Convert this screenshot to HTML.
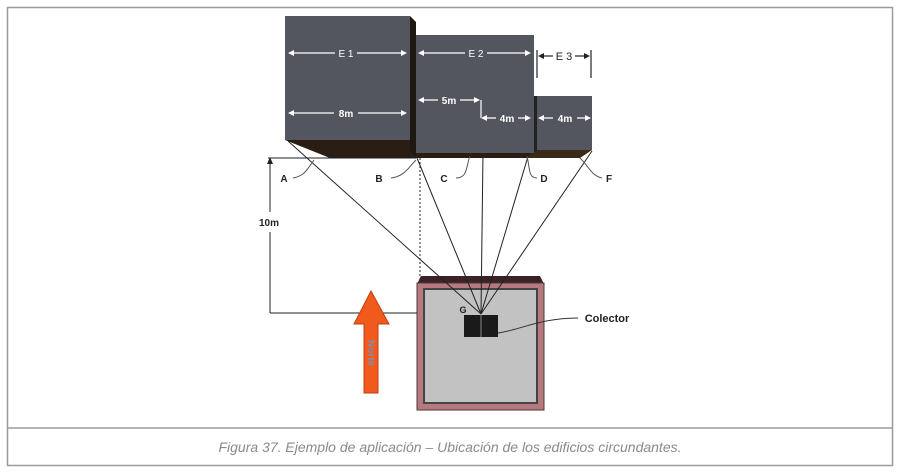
<!DOCTYPE html>
<html><head><meta charset="utf-8"><style>
html,body{margin:0;padding:0;background:#fff;}
svg{display:block;}
</style></head><body>
<svg width="900" height="475" viewBox="0 0 900 475" xmlns="http://www.w3.org/2000/svg" font-family="Liberation Sans, sans-serif">
<rect x="0" y="0" width="900" height="475" fill="#fff"/>
<rect x="7.5" y="7.5" width="885" height="458" fill="none" stroke="#9a9a9a" stroke-width="1.5"/>
<line x1="7.5" y1="428" x2="892.5" y2="428" stroke="#9a9a9a" stroke-width="1.5"/>
<text x="450" y="452" text-anchor="middle" font-size="14" font-style="italic" fill="#8a8a8a">Figura 37. Ejemplo de aplicación – Ubicación de los edificios circundantes.</text>

<path d="M285,140 L330,158 L416,158 L416,140 Z" fill="#2a1d14"/>
<path d="M410,16 L416,22 L416,158 L410,150 Z" fill="#1e1812"/>
<path d="M416,153 L534,153 L537,158 L416,158 Z" fill="#2a1d14"/>
<path d="M534,150 L592,150 L580,158 L528,158 Z" fill="#3a2a18"/>
<path d="M534,96 L537,96 L537,152 L534,152 Z" fill="#222"/>
<rect x="285" y="16" width="125" height="124" fill="#54565f"/>
<rect x="416" y="35" width="118" height="118" fill="#54565f"/>
<rect x="537" y="96" width="55" height="54" fill="#54565f"/>

<g stroke="#fff" stroke-width="1.2" fill="#fff">
<line x1="290" y1="53" x2="405" y2="53"/><path d="M288,53 l6,-3 v6z M407,53 l-6,-3 v6z" stroke="none"/>
<line x1="290" y1="113" x2="405" y2="113"/><path d="M288,113 l6,-3 v6z M407,113 l-6,-3 v6z" stroke="none"/>
<line x1="420" y1="53" x2="529" y2="53"/><path d="M418,53 l6,-3 v6z M531,53 l-6,-3 v6z" stroke="none"/>
<line x1="420" y1="100" x2="478" y2="100"/><path d="M418,100 l6,-3 v6z M480,100 l-6,-3 v6z" stroke="none"/>
<line x1="481" y1="100" x2="481" y2="118"/>
<line x1="483" y1="118" x2="529" y2="118"/><path d="M481,118 l6,-3 v6z M531,118 l-6,-3 v6z" stroke="none"/>
<line x1="539" y1="118" x2="589" y2="118"/><path d="M538,118 l6,-3 v6z M591,118 l-6,-3 v6z" stroke="none"/>
</g>
<g font-size="10" fill="#fff" text-anchor="middle">
<rect x="335" y="47" width="22" height="12" fill="#54565f"/><text x="346" y="57">E 1</text>
<rect x="334" y="107" width="24" height="12" fill="#54565f"/><text x="346" y="117" font-weight="bold">8m</text>
<rect x="465" y="47" width="22" height="12" fill="#54565f"/><text x="476" y="57">E 2</text>
<rect x="438" y="94" width="22" height="12" fill="#54565f"/><text x="449" y="104" font-weight="bold">5m</text>
<rect x="496" y="112" width="22" height="12" fill="#54565f"/><text x="507" y="122" font-weight="bold">4m</text>
<rect x="553" y="112" width="24" height="12" fill="#54565f"/><text x="565" y="122" font-weight="bold">4m</text>
</g>
<g stroke="#222" stroke-width="1.2">
<line x1="537" y1="50" x2="537" y2="78"/><line x1="591" y1="50" x2="591" y2="78"/>
<line x1="540" y1="56" x2="553" y2="56"/><line x1="575" y1="56" x2="588" y2="56"/>
</g>
<path d="M538,56 l6,-3 v6z M590,56 l-6,-3 v6z" fill="#222"/>
<text x="564" y="60" font-size="11" fill="#222" text-anchor="middle">E 3</text>

<!-- house -->
<path d="M417,284 L421,276 L540,276 L544,284 Z" fill="#3a2226"/>
<rect x="417" y="283" width="127" height="127" fill="#b67a7e" stroke="#4a3a3a" stroke-width="1"/>
<rect x="424" y="289" width="113" height="114" fill="#c2c2c2" stroke="#444" stroke-width="2"/>
<rect x="464" y="315" width="34" height="22" fill="#1a1a1a"/>
<line x1="481" y1="315" x2="481" y2="337" stroke="#888" stroke-width="1"/>

<g stroke="#222" stroke-width="1" fill="none">
<line x1="268" y1="158" x2="416" y2="158"/>
<line x1="270" y1="160" x2="270" y2="212"/><line x1="270" y1="232" x2="270" y2="313"/>
<line x1="270" y1="313" x2="417" y2="313"/>
<line x1="420" y1="158" x2="420" y2="281" stroke-dasharray="2,2"/>
<line x1="288" y1="141" x2="481" y2="314"/>
<line x1="417" y1="158" x2="481" y2="314"/>
<line x1="483" y1="153" x2="481" y2="314"/>
<line x1="529" y1="153" x2="481" y2="314"/>
<line x1="592" y1="151" x2="481" y2="314"/>
<path d="M293,178 C305,176 308,168 314,160" stroke="#555"/>
<path d="M391,178 C405,176 408,168 416,160" stroke="#555"/>
<path d="M456,178 C468,178 466,166 470,156" stroke="#555"/>
<path d="M537,178 C528,178 530,168 527,156" stroke="#555"/>
<path d="M602,178 C592,176 590,168 580,158" stroke="#555"/>
<path d="M578,318 C540,318 520,330 498,333" stroke="#333"/>
</g>
<path d="M270,157 l-3,7 h6z" fill="#222"/>
<g font-size="10" font-weight="bold" fill="#222" text-anchor="middle">
<text x="284" y="182">A</text><text x="379" y="182">B</text><text x="444" y="182">C</text>
<text x="544" y="182">D</text><text x="609" y="182">F</text>
<text x="269" y="226">10m</text>
<text x="463" y="313" font-size="9">G</text>
<text x="607" y="322" font-size="11">Colector</text>
</g>

<path d="M371,291 L389,324 L378,324 L378,393 L364,393 L364,324 L354,324 Z" fill="#f05a1c" stroke="#c04010" stroke-width="1"/>
<text x="0" y="0" font-size="10" font-weight="bold" fill="#8a8aa0" transform="translate(368,340) rotate(90)">Norte</text>
</svg>
</body></html>
